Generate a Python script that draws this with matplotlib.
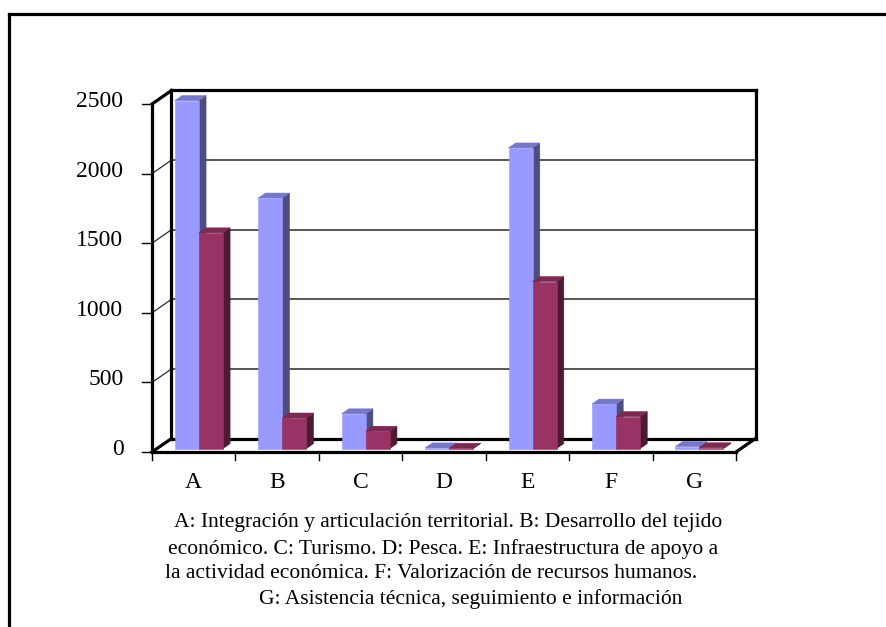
import matplotlib
matplotlib.use("Agg")
import matplotlib.pyplot as plt
from matplotlib.patches import Polygon
from matplotlib.lines import Line2D

plt.rcParams["font.family"] = ["Liberation Serif", "DejaVu Serif"]

# data
categories = ["A", "B", "C", "D", "E", "F", "G"]
serie_1 = [2500, 1800, 250, 5, 2160, 320, 15]
serie_2 = [1550, 220, 125, 3, 1200, 230, 6]
yticks = [0, 500, 1000, 1500, 2000, 2500]
caption = [
    "A: Integración y articulación territorial. B: Desarrollo del tejido",
    "económico. C: Turismo. D: Pesca. E: Infraestructura de apoyo a",
    "la actividad económica. F: Valorización de recursos humanos.",
    "G: Asistencia técnica, seguimiento e información",
]

W, H = 887, 627
fig = plt.figure(figsize=(W / 100, H / 100), dpi=100)
fig.patch.set_facecolor("white")

# front plane of the 3d box in pixels
left, right, bottom, top = 152, 736, 452, 104
ax = fig.add_axes([left / W, (H - bottom) / H, (right - left) / W, (bottom - top) / H])
ax.set_xlim(0, len(categories))
ax.set_ylim(0, 2500)
ax.axis("off")

# depth vector (back wall offset) in data units
px_x = (right - left) / len(categories)
px_y = (bottom - top) / 2500
DX = 19.5 / px_x
DY = 13.5 / px_y


def pt(x, v, d):
    return (x + d * DX, v + d * DY)


def line(p, q, lw=2.3, color="black"):
    ax.add_line(Line2D([p[0], q[0]], [p[1], q[1]], lw=lw, color=color,
                       clip_on=False, solid_capstyle="projecting", zorder=2))


n = len(categories)

# back wall gridlines and side wall diagonals
for v in yticks[1:-1]:
    line(pt(0, v, 1), pt(n, v, 1), lw=1.1, color="#2a2a2a")
    line(pt(0, v, 0), pt(0, v, 1), lw=0.9, color="#2a2a2a")

# box outline
line(pt(0, 0, 1), pt(0, 2500, 1))
line(pt(0, 2500, 1), pt(n, 2500, 1))
line(pt(n, 2500, 1), pt(n, 0, 1))
line(pt(0, 0, 1), pt(n, 0, 1))
line(pt(0, 0, 0), pt(0, 2500, 0))
line(pt(0, 2500, 0), pt(0, 2500, 1))
line(pt(0, 0, 0), pt(n, 0, 0))
line(pt(0, 0, 0), pt(0, 0, 1))
line(pt(n, 0, 0), pt(n, 0, 1))

# y ticks and labels
tick_x = 10 / px_x
for v in yticks:
    line((-tick_x, v), (0, v), lw=1.0)
    ax.annotate(str(v), (0, v), xytext=(-28.5 * 0.72, 2.5 * 0.72),
                textcoords="offset points", ha="right", va="center",
                fontsize=17, annotation_clip=False)

# x ticks and labels
tick_v = 8 / px_y
for i in range(n + 1):
    line((i, 0), (i, -tick_v), lw=1.0)
for i, lab in enumerate(categories):
    ax.annotate(lab, (i + 0.5, 0), xytext=(0, -31 * 0.72),
                textcoords="offset points", ha="center", va="center",
                fontsize=17, annotation_clip=False)

# bars
colors = [
    ("#9999FF", "#4D4D80", "#7777C8"),
    ("#993366", "#4D1A33", "#7A2952"),
]
gap, bw = 0.215, 0.288
d0, d1 = 0.25, 0.62
for i in range(n):
    for s, vals in enumerate([serie_1, serie_2]):
        v = vals[i]
        x0 = i + gap + s * bw
        x1 = x0 + bw
        front_c, side_c, top_c = colors[s]
        faces = [
            ([pt(x1, 0, d0), pt(x1, 0, d1), pt(x1, v, d1), pt(x1, v, d0)], side_c),
            ([pt(x0, v, d0), pt(x1, v, d0), pt(x1, v, d1), pt(x0, v, d1)], top_c),
            ([pt(x0, 0, d0), pt(x1, 0, d0), pt(x1, v, d0), pt(x0, v, d0)], front_c),
        ]
        for verts, c in faces:
            ax.add_patch(Polygon(verts, closed=True, facecolor=c, edgecolor=c,
                                 lw=0.4, clip_on=False, zorder=3))

# caption below the chart
cap_x = [448, 443, 431, 471]
cap_y = [523, 549, 574, 599]
for txt, cx, cy in zip(caption, cap_x, cap_y):
    fig.text(cx / W, 1 - cy / H, txt, ha="center", va="center", fontsize=15.5)

# frame lines on top and left
fig.add_artist(Line2D([9 / W, 1], [1 - 14 / H, 1 - 14 / H], lw=2.3, color="black"))
fig.add_artist(Line2D([9 / W, 9 / W], [1 - 14 / H, 0], lw=2.3, color="black"))

fig.savefig("out.png", dpi=100, facecolor="white")
